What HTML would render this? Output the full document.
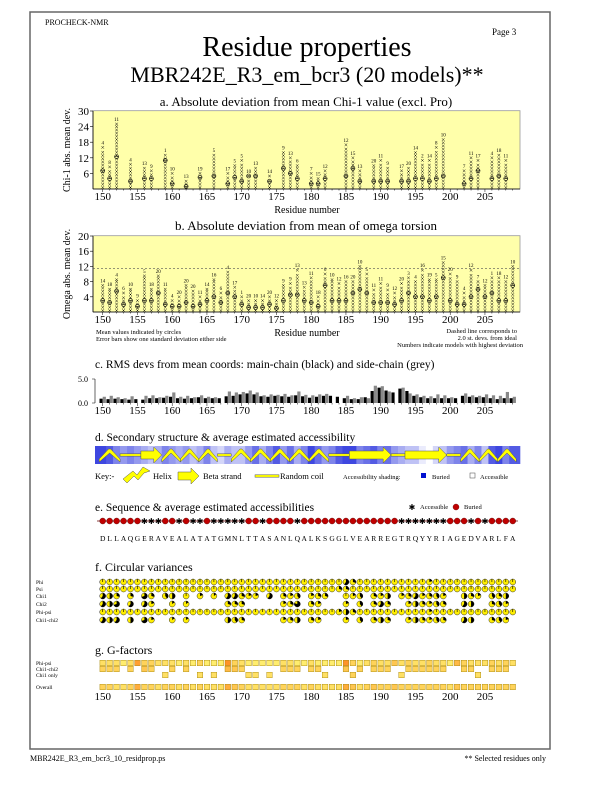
<!DOCTYPE html>
<html><head><meta charset="utf-8"><style>
html,body{margin:0;padding:0;background:#fff}
svg{display:block;font-family:"Liberation Serif",serif}
text{font-family:"Liberation Serif",serif;fill:#000}
</style></head><body>
<svg id="pg" width="612" height="792" viewBox="0 0 612 792" font-family="Liberation Serif, serif" xmlns="http://www.w3.org/2000/svg">
<rect x="30" y="12" width="520" height="737" fill="none" stroke="#666" stroke-width="1.5"/>
<text x="45" y="25" font-size="8">PROCHECK-NMR</text>
<text x="492" y="35" font-size="9">Page  3</text>
<text x="307" y="56" font-size="28" text-anchor="middle">Residue properties</text>
<text x="307" y="82" font-size="22" text-anchor="middle">MBR242E_R3_em_bcr3 (20 models)**</text>
<text x="306" y="106" font-size="13" text-anchor="middle">a. Absolute deviation from mean Chi-1 value (excl. Pro)</text>
<rect x="93" y="110.7" width="427" height="78.3" fill="#ffffaa" stroke="#999" stroke-width="0.8"/>
<text transform="translate(70,150) rotate(-90)" font-size="10" text-anchor="middle">Chi-1 abs. mean dev.</text>
<text x="307" y="213" font-size="10" text-anchor="middle">Residue number</text>
<text x="306" y="230" font-size="13" text-anchor="middle">b. Absolute deviation from mean of omega torsion</text>
<rect x="93" y="235.7" width="427" height="76.3" fill="#ffffaa" stroke="#999" stroke-width="0.8"/>
<text transform="translate(70,274) rotate(-90)" font-size="10" text-anchor="middle">Omega abs. mean dev.</text>
<text x="307" y="336" font-size="10" text-anchor="middle">Residue number</text>
<text x="96" y="334" font-size="6.5">Mean values indicated by circles</text>
<text x="96" y="341" font-size="6.5">Error bars show one standard deviation either side</text>
<text x="517" y="333" font-size="6.5" text-anchor="end">Dashed line corresponds to</text>
<text x="517" y="340" font-size="6.5" text-anchor="end">2.0 st. devs. from ideal</text>
<text x="523" y="347" font-size="6.5" text-anchor="end">Numbers indicate models with highest deviation</text>
<text x="95" y="368" font-size="11.5">c. RMS devs from mean coords: main-chain (black) and side-chain (grey)</text>
<text x="95" y="441" font-size="11.5">d. Secondary structure &amp; average estimated accessibility</text>
<text x="95" y="511" font-size="11.5">e. Sequence &amp; average estimated accessibilities</text>
<text x="95" y="571" font-size="12">f. Circular variances</text>
<text x="95" y="654" font-size="12">g. G-factors</text>
<text x="30" y="761" font-size="8">MBR242E_R3_em_bcr3_10_residprop.ps</text>
<text x="546" y="761" font-size="8" text-anchor="end">** Selected residues only</text>
</svg>
<script>
// ---------- data ----------
const residues = Array.from({length:60},(_,i)=>150+i);
const sequence = "DLLAQGERAVEALATATGMNLTTASANLQALKSGGLVEARREGTRQYYRIAGEDVARLFA";
const xTicks = [150,155,160,165,170,175,180,185,190,195,200,205];
// panel a: chi-1 deviation (max, model label, mean); null = no chi-1
const chiMax = [16,8.5,25,null,9.5,null,8,7,null,13,6,null,3,null,6,null,13,null,6,9,11,5,8,null,5,null,14,12,9,null,6,4,7,null,null,17,12,7,null,9,11,8,null,7,8,14,11,11,16,19,null,null,7,12,11,null,12,13,11,null];
const chiLab = [4,8,11,null,4,null,13,9,null,1,10,null,13,null,19,null,5,null,17,5,5,10,13,null,14,null,9,13,6,null,7,15,12,null,null,12,15,13,null,20,11,9,null,17,20,14,2,14,8,10,null,null,7,11,17,null,4,18,11,null];
const chiMean = [7,4,12.4,null,3,null,4,4,null,11,2,null,1,null,4.5,null,5,null,2,4.5,3,5,5,null,3,null,8,6,4,null,2,2,4,null,null,5,8,3,null,3,3,3,null,3,3,4,4,3,4,5,null,null,2,4,7,null,4,5,4,null];
const chiTicks = [6,12,18,24,30];
// panel b: omega deviation
const omMax = [7,6,8.5,5,6,3,9.5,6,9.5,6,3,4,7,5.5,4,6,8.5,5,10.5,6.5,4,3,3,3,4,3,7,7.5,11,6.5,9,4,10,8.5,7.5,8,8,12,10,5.8,7.5,5.8,5,7.5,9,8,11,8.5,8.5,13,10,8,5,11,8,7,9,9,8,12];
const omLab = [14,18,4,6,10,9,5,18,20,11,4,20,20,20,11,14,16,6,4,17,1,20,10,14,20,12,9,9,13,13,11,18,6,10,12,16,20,10,5,11,11,9,12,20,3,4,16,19,5,15,20,9,4,12,7,12,1,18,12,10];
const omMean = [3,2.5,5.5,2,3,1.5,3,3,5,2,1.5,1.5,2.5,1.5,2,3,4,2.5,5,4,2,1.2,1.2,1.2,2,1,3,4.5,4.5,3,2.5,1.5,7,3,3,3,5,6,5,2.5,2.5,2.5,2,3,5,4,4,3,4,9,3,2,2,4,6,4,5,3,3,7];
const omTicks = [4,8,12,16,20];
const omCutoff = 11.5;
// panel c: RMS devs
const rmsMain = [0.9,0.8,0.9,0.8,0.7,0.8,0.7,1.0,1.0,1.1,1.3,1.0,0.9,1.0,1.2,1.0,1.0,1.0,1.4,1.5,1.8,2.0,1.8,1.4,1.3,1.5,1.4,1.3,1.6,1.4,1.1,1.3,1.5,1.5,1.3,1.0,0.8,0.8,1.2,2.5,3.2,2.6,2.2,3.0,2.5,1.5,1.2,1.0,1.0,1.0,1.0,1.0,1.5,1.3,1.2,1.2,1.0,0.8,1.0,1.0];
const rmsSide = [1.3,1.5,1.2,1.0,1.4,null,1.5,1.6,1.2,1.5,2.2,1.3,1.5,1.2,1.6,1.3,1.2,null,2.4,2.2,2.3,2.6,2.2,1.6,1.8,1.7,1.9,1.6,2.4,1.7,1.6,1.8,1.9,null,null,1.5,1.0,1.2,1.0,3.6,3.5,2.4,null,3.2,2.0,1.8,1.5,1.4,1.8,1.6,1.2,null,2.0,1.6,1.5,1.8,1.6,1.5,2.3,1.3];
const rmsTicks = [0,5];
// panel d: secondary structure & accessibility (1 = buried)
const secStruct = "HHHCCCEEEHHHHHHHHCCHHHHHHHHHHHHHHCCCEEEEEECCEEEEEECCHHHHHHHH";
const access = [0.9,0.8,0.6,0.5,0.6,0.5,0.4,0.3,0.4,0.6,0.5,0.4,0.5,0.3,0.4,0.6,0.3,0.2,0.4,0.3,0.3,0.5,0.7,0.4,0.6,0.8,0.5,0.7,0.4,0.6,0.9,0.7,0.5,0.6,0.8,0.9,0.9,0.6,0.7,0.8,0.6,0.7,0.5,0.4,0.3,0.3,0.1,0.0,0.2,0.3,0.5,0.6,0.7,0.4,0.6,0.3,0.8,0.9,0.6,0.8];
// panel f: circular variances (0..1)
const cvPhi = [0.1,0.1,0.1,0.1,0.1,0.1,0.1,0.1,0.1,0.1,0.1,0.1,0.1,0.1,0.1,0.1,0.1,0.1,0.1,0.1,0.1,0.1,0.1,0.1,0.1,0.1,0.1,0.1,0.1,0.1,0.1,0.1,0.1,0.1,0.1,0.6,0.3,0.1,0.1,0.1,0.1,0.1,0.1,0.1,0.1,0.1,0.1,0.2,0.1,0.1,0.1,0.1,0.1,0.1,0.1,0.1,0.1,0.1,0.1,0.1];
const cvPsi = [0.1,0.1,0.1,0.1,0.1,0.1,0.1,0.1,0.1,0.1,0.1,0.1,0.1,0.1,0.1,0.1,0.1,0.1,0.1,0.1,0.1,0.1,0.1,0.1,0.1,0.1,0.1,0.1,0.1,0.1,0.1,0.1,0.1,0.1,0.3,0.3,0.1,0.1,0.1,0.1,0.1,0.1,0.1,0.1,0.1,0.1,0.1,0.1,0.1,0.1,0.1,0.1,0.1,0.1,0.1,0.1,0.1,0.1,0.1,0.1];
const cvChi1 = [0.6,0.5,0.3,null,0.3,null,0.7,0.3,null,0.4,0.5,null,0.1,null,0.2,null,0.15,null,0.6,0.6,0.3,0.2,0.2,null,0.6,null,0.3,0.2,0.4,null,0.2,0.3,0.3,null,null,0.1,0.2,0.4,null,0.3,0.2,0.5,null,0.2,0.3,0.6,0.2,0.3,0.4,0.2,null,null,0.5,0.3,0.2,null,0.4,0.3,0.5,null];
const cvChi2 = [0.6,0.5,0.7,null,0.6,null,0.6,0.2,null,null,0.15,null,0.15,null,null,null,null,null,0.3,0.3,0.3,null,null,null,null,null,0.2,0.3,0.8,null,0.3,0.2,null,null,null,0.2,null,0.4,null,0.3,0.6,0.3,null,null,0.2,0.5,0.3,0.2,0.4,0.3,null,null,0.6,0.5,null,null,0.3,0.4,0.2,null];
const cvPhiPsi = [0.1,0.1,0.1,0.1,0.1,0.1,0.1,0.1,0.1,0.1,0.1,0.1,0.1,0.1,0.1,0.1,0.1,0.1,0.1,0.1,0.1,0.1,0.1,0.1,0.1,0.1,0.1,0.1,0.1,0.1,0.1,0.1,0.1,0.1,0.2,0.5,0.3,0.1,0.1,0.1,0.1,0.1,0.1,0.1,0.1,0.1,0.1,0.2,0.1,0.1,0.1,0.1,0.1,0.1,0.1,0.1,0.1,0.1,0.1,0.1];
const cvChi12 = [0.6,0.5,0.6,null,0.5,null,0.7,0.2,null,null,0.15,null,0.15,null,null,null,null,null,0.5,0.4,0.3,null,null,null,null,null,0.2,0.3,0.5,null,0.3,0.2,null,null,null,0.2,null,0.4,null,0.3,0.5,0.3,null,null,0.2,0.5,0.3,0.2,0.4,0.3,null,null,0.6,0.5,null,null,0.3,0.4,0.2,null];
// panel g: G-factor badness (0 good .. 1 bad)
const gPhiPsi = [0.2,0.2,0.2,0.1,0.2,0.7,0.3,0.3,0.2,0.2,0.2,0.1,0.2,0.1,0.3,0.1,0.1,0.1,0.8,0.3,0.2,0.1,0.1,0.1,0.1,0.1,0.2,0.2,0.1,0.1,0.2,0.1,0.1,0.1,0.1,0.8,0.3,0.1,0.2,0.3,0.2,0.2,0.4,0.2,0.3,0.2,0.2,0.3,0.2,0.2,0.1,0.5,0.3,0.2,0.2,0.2,0.3,0.2,0.3,0.2];
const gChi12 = [0.3,0.3,0.3,null,0.3,null,0.4,0.3,null,null,0.3,null,0.3,null,null,null,null,null,0.5,0.4,0.3,null,null,null,null,null,0.3,0.3,0.3,null,0.3,0.3,null,null,null,0.4,null,0.3,null,0.3,0.3,0.3,null,null,0.3,0.3,0.3,0.3,0.3,0.3,null,null,0.3,0.3,null,null,0.3,0.3,0.3,null];
const gChi1only = [null,null,null,null,null,null,null,null,null,0.2,null,null,null,null,0.2,null,0.2,null,null,null,null,0.2,0.2,null,0.2,null,null,null,null,null,null,null,0.2,null,null,null,0.3,null,null,null,null,null,null,0.2,null,null,null,null,null,null,null,null,null,null,0.2,null,null,null,null,null];
const gOverall = [0.3,0.3,0.2,0.2,0.3,0.6,0.3,0.3,0.2,0.3,0.3,0.2,0.3,0.2,0.3,0.2,0.2,0.2,0.6,0.4,0.3,0.2,0.2,0.2,0.2,0.2,0.3,0.3,0.3,0.2,0.3,0.2,0.2,0.2,0.2,0.6,0.4,0.2,0.3,0.4,0.3,0.3,0.4,0.3,0.3,0.3,0.3,0.3,0.3,0.3,0.2,0.4,0.3,0.3,0.3,0.3,0.3,0.3,0.3,0.3];

// ---------- scales ----------
const NS="http://www.w3.org/2000/svg";
const svg=document.getElementById('pg');
function X(r){return 102.7+(r-150)*6.95;}
function yA(v){return 189-2.6*v;}
function yB(v){return 312-3.8*v;}
function yC(v){return 403-4.8*v;}
function el(tag,parent){const e=document.createElementNS(NS,tag);(parent||svg).appendChild(e);return e;}
function grp(name){const g=el('g');return g;}
function txt(g,x,y,s,size,anchor){const t=el('text',g);t.setAttribute('x',x);t.setAttribute('y',y);t.setAttribute('font-size',size);if(anchor)t.setAttribute('text-anchor',anchor);t.textContent=s;return t;}
function line(g,x1,y1,x2,y2,c,w){const l=el('line',g);l.setAttribute('x1',x1);l.setAttribute('y1',y1);l.setAttribute('x2',x2);l.setAttribute('y2',y2);l.setAttribute('stroke',c||'#000');l.setAttribute('stroke-width',w||0.6);return l;}

function xAxis(name,yAxis,yLab){
  const g=grp(name);
  residues.forEach(r=>{line(g,X(r),yAxis,X(r),yAxis+(r%5===0?3:1.5),'#000',0.5);});
  xTicks.forEach(t=>{const tt=txt(g,X(t),yLab,String(t),11,'middle');
    
    });
}

// ---------- deviation panels ----------
function devPanel(prefix,maxArr,labArr,meanArr,yF,ticks,cut){
  const ga=grp(prefix+'-y-axis');
  ticks.forEach(t=>{line(ga,90,yF(t),93,yF(t),'#000',0.6);
    const tt=txt(ga,89,yF(t)+4,String(t),11,'end');
    
    });
  line(ga,93,yF(0),93,yF(ticks[ticks.length-1]),'#000',0.8);
  line(ga,93,yF(0),520,yF(0),'#000',0.8);
  if(cut!=null){const d=line(svg,93,yF(cut),520,yF(cut),'#555',0.6);d.setAttribute('stroke-dasharray','2,2');
    
    }
  residues.forEach((r,i)=>{
    const mx=maxArr[i]; if(mx==null) return;
    const g=grp(prefix+'-residue-'+r);
    const x=X(r), top=yF(mx), bot=yF(0)-1.5;
    for(let y=bot;y>top+2;y-=3.2){
      const p=el('path',g);p.setAttribute('d',`M${x-1.3} ${y-1.3}l2.6 2.6m0 -2.6l-2.6 2.6`);p.setAttribute('stroke','#000');p.setAttribute('stroke-width','0.5');}
    const p=el('path',g);p.setAttribute('d',`M${x-1.3} ${top-1.3}l2.6 2.6m0 -2.6l-2.6 2.6`);p.setAttribute('stroke','#000');p.setAttribute('stroke-width','0.5');
    const m=meanArr[i];
    const c=el('circle',g);c.setAttribute('cx',x);c.setAttribute('cy',yF(m));c.setAttribute('r',2);c.setAttribute('fill','none');c.setAttribute('stroke','#000');c.setAttribute('stroke-width','0.6');
    
    
    line(g,x-2,yF(m),x+2,yF(m),'#000',0.5);
    const lb=txt(g,x,top-3,String(labArr[i]),5,'middle');
    
    
  });
}
devPanel('chi1',chiMax,chiLab,chiMean,yA,chiTicks,null);
xAxis('chi1-x-axis',189,200);
devPanel('omega',omMax,omLab,omMean,yB,omTicks,omCutoff);
xAxis('omega-x-axis',312,323);

// ---------- panel c ----------
(function(){
  const g=grp('rms-axis');
  line(g,95,yC(0),95,yC(5),'#000',0.6);
  rmsTicks.forEach(t=>{line(g,92,yC(t),95,yC(t),'#000',0.5);
    const tt=txt(g,88,yC(t)+3,t.toFixed(1),8,'end');
    
    });
  const gb=grp('rms-bars');
  residues.forEach((r,i)=>{
    const b=el('rect',gb);b.setAttribute('x',X(r)-3.2);b.setAttribute('width',3.2);b.setAttribute('y',yC(rmsMain[i]));b.setAttribute('height',yC(0)-yC(rmsMain[i]));b.setAttribute('fill','#000');
    
    
    if(rmsSide[i]!=null){const s=el('rect',gb);s.setAttribute('x',X(r));s.setAttribute('width',3.2);s.setAttribute('y',yC(rmsSide[i]));s.setAttribute('height',yC(0)-yC(rmsSide[i]));s.setAttribute('fill','#888');
      
      }
  });
  xAxis('rms-x-axis',403,414);
})();

// ---------- panel d ----------
function blue(a){const r=Math.round(255-a*(255-40)),g=Math.round(255-a*(255-50)),b=Math.round(255-a*(255-220));return `rgb(${r},${g},${b})`;}
(function(){
  const g=grp('accessibility-band');
  residues.forEach((r,i)=>{const c=el('rect',g);
    const x0=i===0?95:X(r)-3.48, x1=i===59?520:X(r)+3.48;
    c.setAttribute('x',x0);c.setAttribute('y',446);c.setAttribute('width',x1-x0+0.3);c.setAttribute('height',18);c.setAttribute('fill',blue(access[i]));
    
    });
  const gs=grp('secondary-structure');
  let i=0;
  while(i<60){let j=i;while(j+1<60&&secStruct[j+1]===secStruct[i])j++;
    const x0=X(150+i)-3.5,x1=X(150+j)+3.5,t=secStruct[i],yc=455;
    let p=el('path',gs);
    if(t==='C'){p.setAttribute('d',`M${x0} ${yc-1.2}H${x1}V${yc+1.2}H${x0}Z`);}
    else if(t==='E'){const hx=x1-8;p.setAttribute('d',`M${x0} ${yc-4}H${hx}V${yc-8}L${x1} ${yc}L${hx} ${yc+8}V${yc+4}H${x0}Z`);}
    else{let d='';const n=Math.max(1,Math.round((x1-x0)/18));const w=(x1-x0)/n;
      for(let k=0;k<n;k++){const a=x0+k*w;d+=`M${a} ${yc+4}L${a+w*0.45} ${yc-6}L${a+w*0.55} ${yc-6}L${a+w} ${yc+4}L${a+w} ${yc+7}L${a+w*0.5} ${yc-2}L${a} ${yc+7}Z`;}
      p.setAttribute('d',d);}
    p.setAttribute('fill','#ffff00');p.setAttribute('stroke','#555');p.setAttribute('stroke-width','0.5');
    
    
    i=j+1;}
  const k=grp('secondary-structure-key');
  txt(k,95,479,'Key:-',8.5);
  let h=el('path',k);h.setAttribute('d','M123 479L133 471L137 475L143 467L150 471L144 473L138 480L134 476L127 483Z');h.setAttribute('fill','#ff0');h.setAttribute('stroke','#555');h.setAttribute('stroke-width','0.5');
  txt(k,153,479,'Helix',8.5);
  let a=el('path',k);a.setAttribute('d','M178 472H191V468L199 476L191 484V480H178Z');a.setAttribute('fill','#ff0');a.setAttribute('stroke','#555');a.setAttribute('stroke-width','0.5');
  txt(k,203,479,'Beta strand',8.5);
  let c=el('rect',k);c.setAttribute('x',255);c.setAttribute('y',474.8);c.setAttribute('width',24);c.setAttribute('height',2.4);c.setAttribute('fill','#ff0');c.setAttribute('stroke','#555');c.setAttribute('stroke-width','0.5');
  txt(k,280,479,'Random coil',8.5);
  txt(k,343,479,'Accessibility shading:',6.5);
  let bs=el('rect',k);bs.setAttribute('x',421);bs.setAttribute('y',473);bs.setAttribute('width',5);bs.setAttribute('height',5);bs.setAttribute('fill','#0010d0');
  txt(k,432,479,'Buried',6.5);
  let ws=el('rect',k);ws.setAttribute('x',470);ws.setAttribute('y',473);ws.setAttribute('width',5);ws.setAttribute('height',5);ws.setAttribute('fill','#fff');ws.setAttribute('stroke','#444');ws.setAttribute('stroke-width','0.5');
  txt(k,480,479,'Accessible',6.5);
})();

// ---------- panel e ----------
(function(){
  const lg=grp('accessibility-legend');
  txt(lg,412,510,'✱',8,'middle');
  txt(lg,420,509,'Accessible',6.5);
  const rc=el('circle',lg);rc.setAttribute('cx',456);rc.setAttribute('cy',507);rc.setAttribute('r',3);rc.setAttribute('fill','#c00000');rc.setAttribute('stroke','#600');rc.setAttribute('stroke-width','0.4');
  txt(lg,464,509,'Buried',6.5);
  const g=grp('sequence-accessibility');
  line(g,97,521,518,521,'#600',0.8);
  residues.forEach((r,i)=>{
    if(access[i]>=0.5){const c=el('circle',g);c.setAttribute('cx',X(r));c.setAttribute('cy',521);c.setAttribute('r',3);c.setAttribute('fill','#c00000');c.setAttribute('stroke','#500');c.setAttribute('stroke-width','0.4');
      
      }
    else{const s=txt(g,X(r),524,'✱',8,'middle');
      
      }
    const t=txt(g,X(r),541,sequence[i],7.5,'middle');
    
    
  });
})();

// ---------- panel f ----------
function pie(g,cx,cy,f,r){
  const c=el('circle',g);c.setAttribute('cx',cx);c.setAttribute('cy',cy);c.setAttribute('r',r);c.setAttribute('fill','#ffee00');c.setAttribute('stroke','#333');c.setAttribute('stroke-width','0.5');
  if(f<0.12){line(g,cx,cy,cx,cy-r,'#000',0.6);return;}
  const a=f*2*Math.PI,ex=cx+r*Math.sin(a),ey=cy-r*Math.cos(a);
  const p=el('path',g);p.setAttribute('d',`M${cx} ${cy}L${cx} ${cy-r}A${r} ${r} 0 ${f>0.5?1:0} 1 ${ex} ${ey}Z`);p.setAttribute('fill','#000');
}
(function(){
  const rows=[['Phi',cvPhi,582],['Psi',cvPsi,589],['Chi1',cvChi1,596],['Chi2',cvChi2,604],['Phi-psi',cvPhiPsi,612],['Chi1-chi2',cvChi12,620]];
  rows.forEach(([nm,arr,y])=>{
    const g=grp('circular-variance-row-'+nm.toLowerCase());
    txt(g,36,y+2,nm,5.5);
    residues.forEach((r,i)=>{if(arr[i]!=null)pie(g,X(r),y,arr[i],3);});
  });
})();

// ---------- panel g ----------
function gcol(b){const r=255,g=Math.round(250-b*130),bl=Math.round(120-b*100);return `rgb(${r},${g},${Math.max(bl,20)})`;}
(function(){
  const rows=[['Phi-psi',gPhiPsi,663],['Chi1-chi2',gChi12,669],['Chi1 only',gChi1only,675],['Overall',gOverall,687]];
  rows.forEach(([nm,arr,y])=>{
    const g=grp('g-factor-row-'+nm.toLowerCase().replace(' ','-'));
    txt(g,36,y+2,nm,5.5);
    residues.forEach((r,i)=>{if(arr[i]==null)return;
      const s=el('rect',g);s.setAttribute('x',X(r)-2.8);s.setAttribute('y',y-2.8);s.setAttribute('width',5.6);s.setAttribute('height',5.6);s.setAttribute('fill',gcol(arr[i]));s.setAttribute('stroke','#a08000');s.setAttribute('stroke-width','0.4');
      
      });
  });
  const ga=grp('g-factor-x-axis');
  xTicks.forEach(t=>{const tt=txt(ga,X(t),700,String(t),11,'middle');
    
    });
})();
</script>
</body></html>
